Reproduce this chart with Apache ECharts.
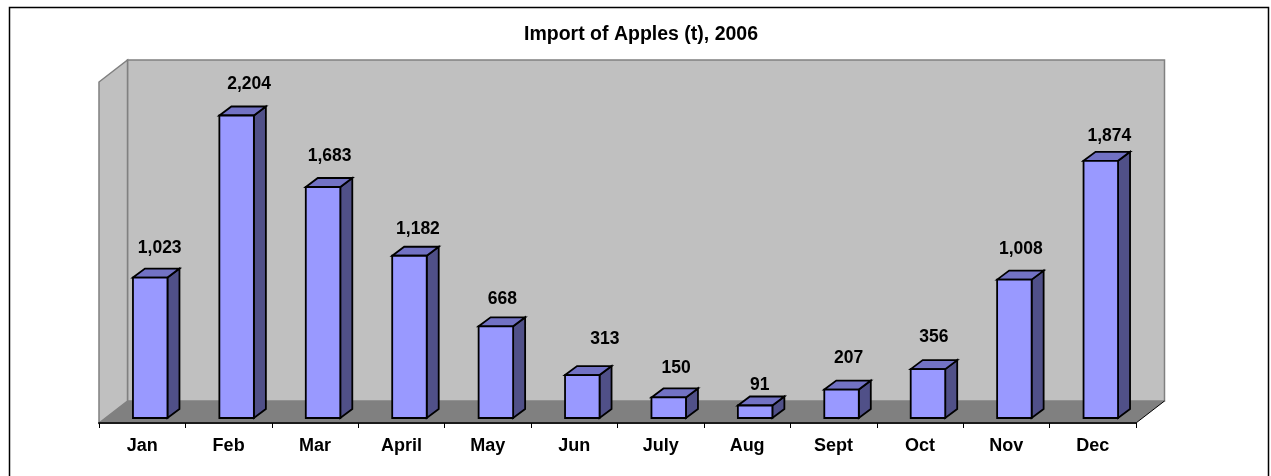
<!DOCTYPE html>
<html><head><meta charset="utf-8">
<style>html,body{margin:0;padding:0;background:#fff}#c{width:1271px;height:476px}</style>
<script src="https://cdn.jsdelivr.net/npm/echarts@6/dist/echarts.min.js"></script>
</head><body><div id="c"></div>
<script>
const categories = ['Jan','Feb','Mar','April','May','Jun','July','Aug','Sept','Oct','Nov','Dec'];
const imports = [1023,2204,1683,1182,668,313,150,91,207,356,1008,1874];
const chartTitle = 'Import of Apples (t), 2006';
// hand-placed label nudges from the bar's front-top centre
const labelDx = [10,13,7,9,7,23,8,5,7.5,6.5,7,9];
const labelDy = [29,31,31,27,27,36,29,20,31,32,30,25];

const L=99,R=1136,FRONT=423,BASE=418,BACK=60,DX=28.5,DY=22;
const DEPTH_X=12,DEPTH_Y=9,BAR_W=34.5,BAR_SHIFT=8;
const fmt=v=>v.toLocaleString('en-US');
const FONT='"Liberation Sans", Arial, sans-serif';

const chart=echarts.init(document.getElementById('c'),null,{renderer:'canvas'});
chart.setOption({
  animation:false,
  backgroundColor:'#fff',
  title:{text:chartTitle,left:636,top:20,textAlign:'center',z:10,
    textStyle:{fontFamily:FONT,fontSize:19.5,fontWeight:'bold',color:'#000'}},
  grid:{left:L,right:1271-R,top:BASE-302.5,bottom:476-BASE},
  xAxis:{type:'category',data:categories,offset:5,z:10,
    axisLine:{onZero:false,lineStyle:{color:'#1a1a1a',width:2}},
    axisTick:{show:true,alignWithLabel:false,length:5,lineStyle:{color:'#000',width:1}},
    axisLabel:{fontFamily:FONT,fontSize:18,fontWeight:'bold',color:'#000',margin:14,interval:0}},
  yAxis:{type:'value',min:0,max:2204,show:false,splitLine:{show:false}},
  graphic:[
    {type:'rect',z:0,silent:true,shape:{x:9.5,y:7.5,width:1259,height:480},style:{fill:'#fff',stroke:'#000',lineWidth:1.5}},
    {type:'polygon',z:1,silent:true,shape:{points:[[L+DX,BACK],[R+DX,BACK],[R+DX,FRONT-DY],[L+DX,FRONT-DY]]},style:{fill:'#c0c0c0',stroke:'#808080',lineWidth:1.5}},
    {type:'polygon',z:1,silent:true,shape:{points:[[L,BACK+DY],[L+DX,BACK],[L+DX,FRONT-DY],[L,FRONT]]},style:{fill:'#c0c0c0',stroke:'#808080',lineWidth:1.5}},
    {type:'polygon',z:1,silent:true,shape:{points:[[L,FRONT],[L+DX,FRONT-DY],[R+DX,FRONT-DY],[R,FRONT]]},style:{fill:'#808080',stroke:'#000',lineWidth:0}},
    {type:'polyline',z:2,silent:true,shape:{points:[[R,FRONT],[R+DX,FRONT-DY]]},style:{stroke:'#000',lineWidth:1}}
  ],
  series:[{
    type:'custom',
    z:5,
    data:imports,
    renderItem(params,api){
      const i=params.dataIndex;
      const v=imports[i];
      const top=api.coord([i,v]), base=api.coord([i,0]);
      const x0=top[0]+BAR_SHIFT-BAR_W/2, x1=x0+BAR_W, y0=top[1], y1=base[1];
      const s={stroke:'#000',lineWidth:1.8,lineJoin:'miter'};
      return {type:'group',children:[
        {type:'polygon',shape:{points:[[x1,y0],[x1+DEPTH_X,y0-DEPTH_Y],[x1+DEPTH_X,y1-DEPTH_Y],[x1,y1]]},style:{fill:'#505088',...s}},
        {type:'polygon',shape:{points:[[x0,y0],[x0+DEPTH_X,y0-DEPTH_Y],[x1+DEPTH_X,y0-DEPTH_Y],[x1,y0]]},style:{fill:'#7272c4',...s}},
        {type:'rect',shape:{x:x0,y:y0,width:BAR_W,height:y1-y0},style:{fill:'#9999ff',...s}},
        {type:'text',x:top[0]+BAR_SHIFT-0.5+labelDx[i],y:y0-labelDy[i],style:{text:fmt(v),font:'bold 17.5px '+FONT,fill:'#000',align:'center',verticalAlign:'middle'}}
      ]};
    }
  }]
});
</script></body></html>
